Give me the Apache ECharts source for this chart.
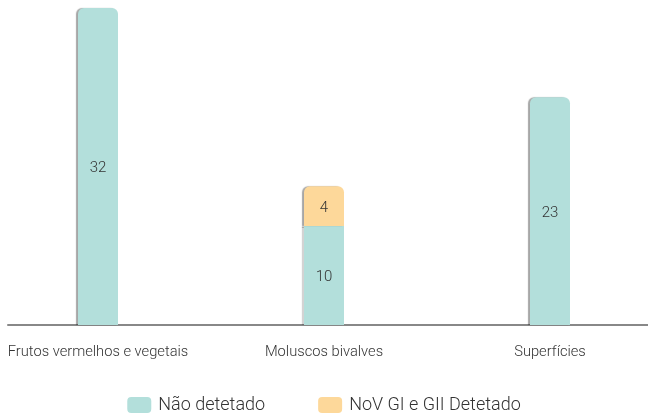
<!DOCTYPE html>
<html><head><meta charset="utf-8">
<script src="https://cdn.jsdelivr.net/npm/echarts@6/dist/echarts.min.js"></script>
<style>html,body{margin:0;padding:0;background:#fff}#c{width:648px;height:414px}</style>
</head><body><div id="c"></div>
<script>
var categories = ['Frutos vermelhos e vegetais', 'Moluscos bivalves', 'Superfícies'];
var naoDetetado = [32, 10, 23];
var detetado = [0, 4, 0];
var seriesNames = ['Não detetado', 'NoV GI e GII Detetado'];

var FONT = 'Roboto';
var chart = echarts.init(document.getElementById('c'));
var R = 6;
function build(vals, topVals) {
  return vals.map(function (v, i) {
    var isTop = !topVals || !topVals[i];
    return { value: v === 0 ? null : v, itemStyle: { borderRadius: isTop ? [R, R, 0, 0] : 0 } };
  });
}
var shadow = { shadowColor: 'rgba(0,0,0,0.35)', shadowOffsetX: -2, shadowOffsetY: 0, shadowBlur: 1 };
var lbl = { show: true, position: 'inside', fontSize: 15, color: '#333', fontFamily: FONT, fontWeight: 300, offset: [0, 2] };
chart.setOption({
  animation: false,
  textStyle: { fontFamily: FONT },
  legend: {
    bottom: -5, left: 'center', itemWidth: 24, itemHeight: 16, itemGap: 53,
    textStyle: { fontSize: 18, color: '#333', fontFamily: FONT, fontWeight: 300, padding: [0, 0, 0, 2] },
    itemStyle: { borderRadius: 2 },
    data: seriesNames
  },
  grid: [
    { left: -15, right: -15, top: 8, bottom: 89, outerBoundsMode: 'none' },
    { left: 8, right: 0, top: 8, bottom: 89, outerBoundsMode: 'none' }
  ],
  xAxis: [
    { type: 'category', data: categories, gridIndex: 0,
      axisLine: { show: false }, axisTick: { show: false },
      axisLabel: { interval: 0, fontSize: 14.7, color: '#333', margin: 20, fontFamily: FONT, fontWeight: 300 } },
    { type: 'category', data: categories, gridIndex: 1,
      axisLine: { show: true, lineStyle: { color: '#888', width: 2 } }, axisTick: { show: false },
      axisLabel: { show: false } }
  ],
  yAxis: [
    { type: 'value', min: 0, max: 32, gridIndex: 0, show: false, splitLine: { show: false } },
    { type: 'value', min: 0, max: 32, gridIndex: 1, show: false, splitLine: { show: false } }
  ],
  series: [
    { name: seriesNames[0], type: 'bar', stack: 's', barWidth: 40, z: 1,
      itemStyle: Object.assign({ color: '#b3dfdb' }, shadow),
      label: lbl, data: build(naoDetetado, detetado) },
    { name: seriesNames[1], type: 'bar', stack: 's', barWidth: 40, z: 1,
      itemStyle: Object.assign({ color: '#fdd89a' }, shadow),
      label: lbl, data: build(detetado, null) }
  ]
});
</script></body></html>
